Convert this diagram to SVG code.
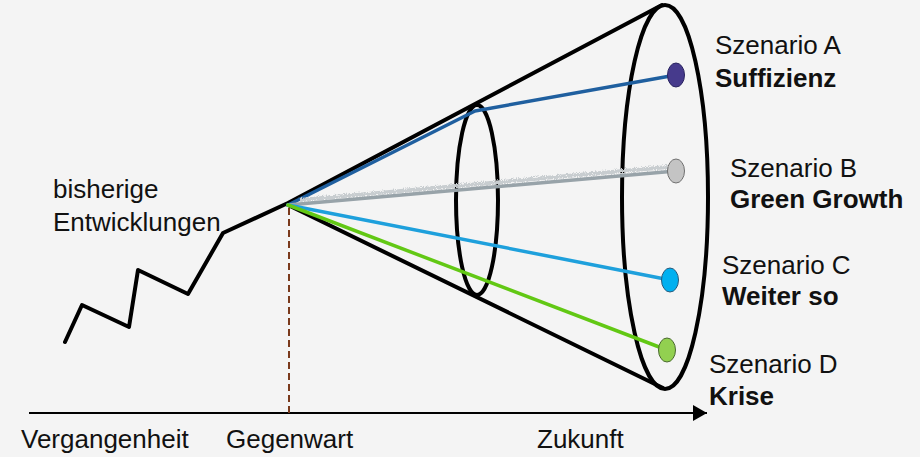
<svg xmlns="http://www.w3.org/2000/svg" width="920" height="457" viewBox="0 0 920 457">
<defs>
<style>
.blk{fill:none;stroke:#000;stroke-width:4;stroke-linejoin:round;stroke-linecap:round}
.t{font-family:"Liberation Sans",Arial,sans-serif;font-size:26px;fill:#111}
.b{font-weight:bold}
.con{fill:none;stroke-width:3.5;stroke-linecap:round}
.dot{stroke-width:1}
</style>
<marker id="arr" viewBox="0 0 14 16" refX="14" refY="8" markerWidth="14" markerHeight="16" markerUnits="userSpaceOnUse" orient="auto">
<path d="M0,0 L14,8 L0,16 Z" fill="#000"/>
</marker>
<filter id="fuzz" x="-5%" y="-200%" width="110%" height="500%">
<feTurbulence type="fractalNoise" baseFrequency="0.9" numOctaves="2" result="n"/>
<feDisplacementMap in="SourceGraphic" in2="n" scale="5"/>
</filter>
</defs>
<rect width="920" height="457" fill="#f4f4f4"/>

<g id="axis">
<line x1="29" y1="413" x2="707" y2="413" stroke="#000" stroke-width="2" marker-end="url(#arr)"/>
<line x1="289" y1="208" x2="289" y2="413" stroke="#7a3a1c" stroke-width="2" stroke-dasharray="7,4"/>
<text class="t" x="21" y="448">Vergangenheit</text>
<text class="t" x="226" y="448">Gegenwart</text>
<text class="t" x="537" y="448">Zukunft</text>
</g>

<g id="history">
<path class="blk" d="M65,342 L82,305 L129,327 L138,270 L188,294 L223,233 L288,203 L662,5"/>
<text class="t" x="53" y="198">bisherige</text>
<text class="t" x="53" y="231">Entwicklungen</text>
</g>

<g id="cone">
<line class="blk" x1="288" y1="205" x2="663" y2="388"/>
<ellipse class="blk" cx="477" cy="200" rx="21" ry="95"/>
<ellipse class="blk" cx="665" cy="197" rx="43" ry="192"/>
</g>

<g id="connectors">
<path class="con" d="M288,205 L475,111 L676,75" stroke="#1f5f9f" stroke-linejoin="round"/>
<line x1="300" y1="200" x2="668" y2="167" stroke="#c8cdd0" stroke-width="4" filter="url(#fuzz)"/>
<line class="con" x1="288" y1="205" x2="676" y2="171" stroke="#98a3a9"/>
<line class="con" x1="288" y1="205" x2="670" y2="280" stroke="#1ea0dc"/>
<line class="con" x1="288" y1="205" x2="667" y2="350" stroke="#62c814"/>
</g>

<g id="scenario-a">
<ellipse class="dot" cx="676" cy="75" rx="8.5" ry="12" fill="#463a8c" stroke="#2a2460"/>
<text class="t" x="715" y="54">Szenario A</text>
<text class="t b" x="715" y="87">Suffizienz</text>
</g>
<g id="scenario-b">
<ellipse class="dot" cx="676" cy="171" rx="8.5" ry="12" fill="#c4c4c4" stroke="#707070"/>
<text class="t" x="730" y="177">Szenario B</text>
<text class="t b" x="730" y="208">Green Growth</text>
</g>
<g id="scenario-c">
<ellipse class="dot" cx="670" cy="280" rx="8.5" ry="12" fill="#00b0f0" stroke="#2a5a7a"/>
<text class="t" x="722" y="274">Szenario C</text>
<text class="t b" x="722" y="305">Weiter so</text>
</g>
<g id="scenario-d">
<ellipse class="dot" cx="667" cy="350" rx="8.5" ry="12" fill="#92d050" stroke="#4a6a30"/>
<text class="t" x="709" y="373">Szenario D</text>
<text class="t b" x="709" y="405">Krise</text>
</g>
</svg>
